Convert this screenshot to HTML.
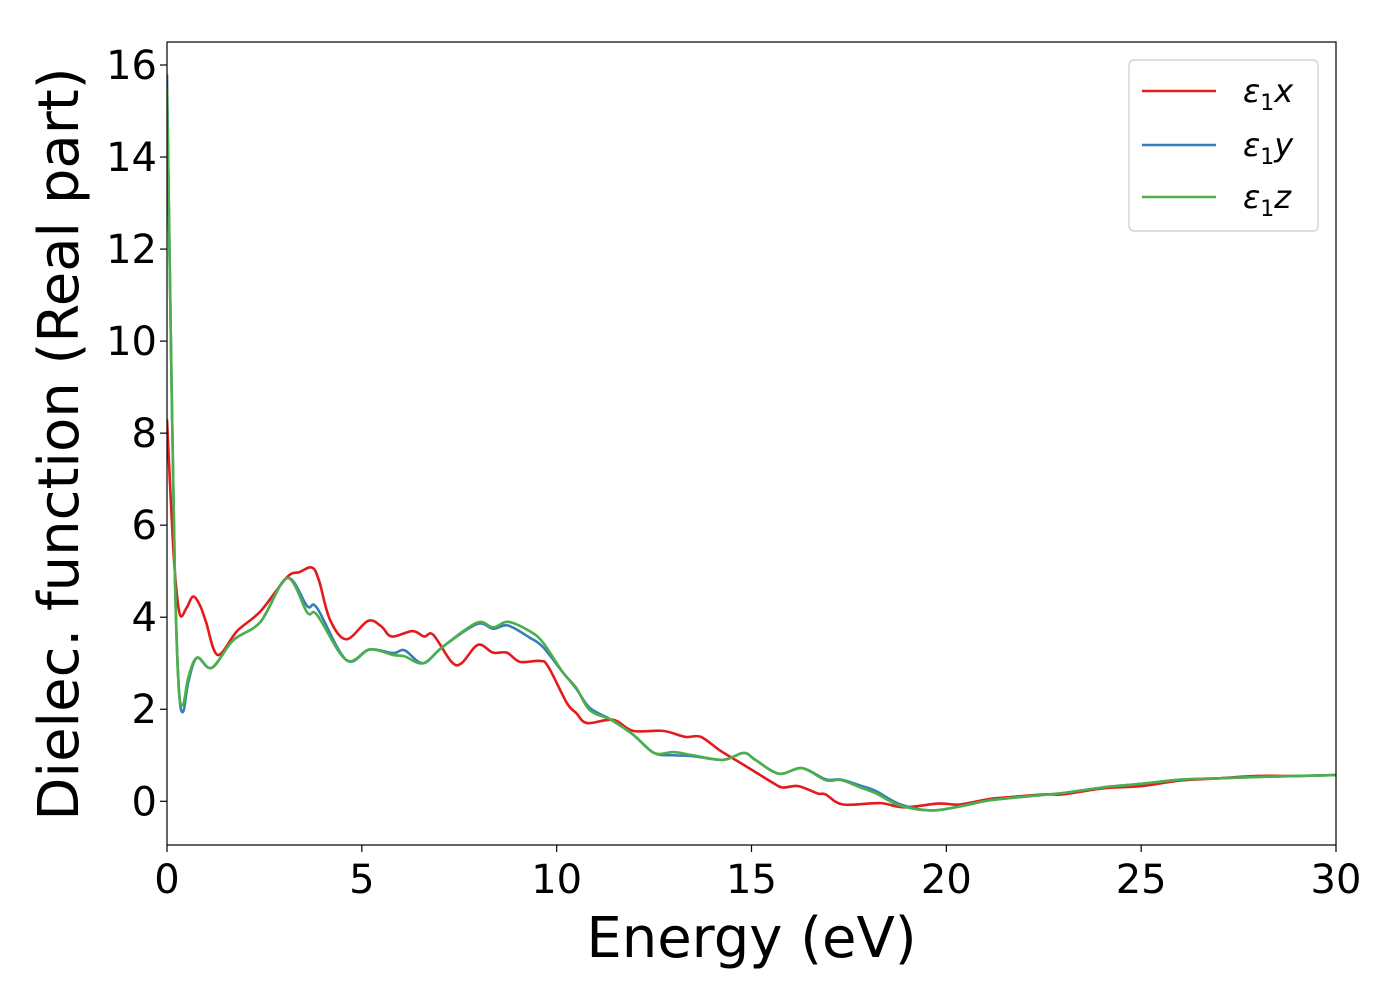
<!DOCTYPE html>
<html><head><meta charset="utf-8"><style>body{margin:0;background:#fff}svg{display:block}text{font-family:"DejaVu Sans","Liberation Sans",sans-serif}</style></head>
<body>
<svg id="chart" width="1400" height="1000">
<rect x="0" y="0" width="1400" height="1000" fill="#fff"/>
<g id="series"></g>
<g id="axes"></g>
</svg>
<script>
const xTicks=[0,5,10,15,20,25,30];
const yTicks=[0,2,4,6,8,10,12,14,16];
const eX=[0,0.1,0.2,0.33,0.5,0.67,0.85,1.0,1.3,1.8,2.4,3.08,3.4,3.72,3.9,4.18,4.6,5.16,5.5,5.77,6.3,6.6,6.83,7.3,7.56,7.98,8.37,8.72,9.06,9.57,9.78,10.26,10.5,10.78,11.45,11.96,12.73,13.3,13.7,14.2,14.9,15.55,15.8,16.2,16.7,16.9,17.35,18.3,18.9,19.8,20.35,21.1,21.5,22.5,23,24,25,26,27,28,29,30];
const vX=[8.3,6.5,5.0,4.06,4.2,4.45,4.25,3.9,3.18,3.7,4.13,4.87,4.98,5.08,4.8,3.95,3.52,3.92,3.8,3.58,3.7,3.58,3.62,3.03,3.0,3.4,3.23,3.23,3.03,3.05,2.93,2.14,1.92,1.7,1.77,1.53,1.53,1.4,1.4,1.1,0.74,0.4,0.3,0.33,0.17,0.15,-0.07,-0.04,-0.13,-0.05,-0.07,0.05,0.08,0.15,0.15,0.28,0.33,0.45,0.5,0.55,0.55,0.57];
const eY=[0,0.1,0.2,0.3,0.41,0.55,0.77,1.15,1.7,2.4,3.08,3.6,3.85,4.6,5.2,5.8,6.1,6.57,7.08,7.95,8.37,8.75,9.3,9.65,10.16,10.5,10.85,11.4,11.96,12.5,13.0,13.5,14.27,14.8,15.1,15.7,16.3,16.9,17.3,17.8,18.2,18.8,19.6,20.35,21.1,22,23,24,25,26,27,28,29,30];
const vY=[15.8,10,5,2.5,1.94,2.6,3.12,2.9,3.5,3.9,4.85,4.24,4.2,3.07,3.3,3.22,3.28,3.0,3.36,3.85,3.75,3.82,3.56,3.35,2.8,2.45,2.03,1.77,1.45,1.05,1.0,0.98,0.9,1.05,0.9,0.6,0.72,0.48,0.47,0.34,0.22,-0.06,-0.2,-0.11,0.02,0.1,0.18,0.3,0.38,0.47,0.5,0.53,0.55,0.57];
const eZ=eY;
const vZ=[15.5,10,5,2.5,2.1,2.7,3.12,2.9,3.5,3.9,4.85,4.1,4.05,3.07,3.3,3.18,3.15,3.0,3.36,3.88,3.78,3.9,3.7,3.45,2.8,2.47,1.98,1.77,1.45,1.05,1.07,1.0,0.9,1.05,0.9,0.6,0.72,0.46,0.46,0.3,0.17,-0.09,-0.2,-0.11,0.02,0.1,0.18,0.3,0.38,0.47,0.5,0.53,0.55,0.57];
const L=167,R=1336,T=42,B=845,xmin=0,xmax=30,ymin=-0.95,ymax=16.5;
const xs=v=>L+(v-xmin)/(xmax-xmin)*(R-L);
const ys=v=>B-(v-ymin)/(ymax-ymin)*(B-T);
const NS='http://www.w3.org/2000/svg';
function mk(t,a,p){const e=document.createElementNS(NS,t);for(const k in a)e.setAttribute(k,a[k]);p.appendChild(e);return e;}
function pathD(E,V){const P=E.map((e,i)=>[xs(e),ys(V[i])]);let d='M'+P[0][0]+','+P[0][1];
for(let i=0;i<P.length-1;i++){const p0=P[i-1]||P[i],p1=P[i],p2=P[i+1],p3=P[i+2]||p2;
const c1=[p1[0]+(p2[0]-p0[0])/6,p1[1]+(p2[1]-p0[1])/6],c2=[p2[0]-(p3[0]-p1[0])/6,p2[1]-(p3[1]-p1[1])/6];
d+=' C'+c1+' '+c2+' '+p2;}return d;}
const g=document.getElementById('series');
const defs=document.createElementNS(NS,'defs');document.getElementById('chart').appendChild(defs);
const cp=mk('clipPath',{id:'cp'},defs);mk('rect',{x:L,y:T,width:R-L,height:B-T},cp);
g.setAttribute('clip-path','url(#cp)');
[[eX,vX,'#e41a1c','line-eps1x'],[eY,vY,'#377eb8','line-eps1y'],[eZ,vZ,'#4daf4a','line-eps1z']].forEach(s=>{
const p=mk('path',{d:pathD(s[0],s[1]),fill:'none',stroke:s[2],'stroke-width':2.6},g);

});
const a=document.getElementById('axes');
const fr=mk('rect',{x:L,y:T,width:R-L,height:B-T,fill:'none',stroke:'#000','stroke-width':1.2},a);


xTicks.forEach(t=>{mk('line',{x1:xs(t),x2:xs(t),y1:B,y2:B+7,stroke:'#000','stroke-width':1.2},a);
const tx=mk('text',{x:xs(t),y:B+48,'font-size':40,'text-anchor':'middle'},a);tx.textContent=t;

});
yTicks.forEach(t=>{mk('line',{x1:L-7,x2:L,y1:ys(t),y2:ys(t),stroke:'#000','stroke-width':1.2},a);
const tx=mk('text',{x:L-10,y:ys(t)+14,'font-size':40,'text-anchor':'end'},a);tx.textContent=t;

});
const xl=mk('text',{x:(L+R)/2,y:957,'font-size':56,'text-anchor':'middle'},a);xl.textContent='Energy (eV)';


const yl=mk('text',{x:0,y:0,'font-size':56,'text-anchor':'middle',transform:'translate(78,444) rotate(-90)'},a);yl.textContent='Dielec. function (Real part)';


const lg=mk('g',{},a);


mk('rect',{x:1129,y:60,width:189,height:171,rx:5,fill:'#fff',stroke:'#ccc','stroke-width':1.2},lg);
[['#e41a1c','x',91],['#377eb8','y',145],['#4daf4a','z',197]].forEach(e=>{
mk('line',{x1:1142,x2:1216,y1:e[2],y2:e[2],stroke:e[0],'stroke-width':2.6},lg);
const t=mk('text',{x:1243,y:e[2]+11,'font-size':32,'font-style':'italic'},lg);
t.innerHTML='ε<tspan font-style="normal" font-size="22" dy="8">1</tspan><tspan dy="-8">'+e[1]+'</tspan>';

});
</script>
</body></html>
